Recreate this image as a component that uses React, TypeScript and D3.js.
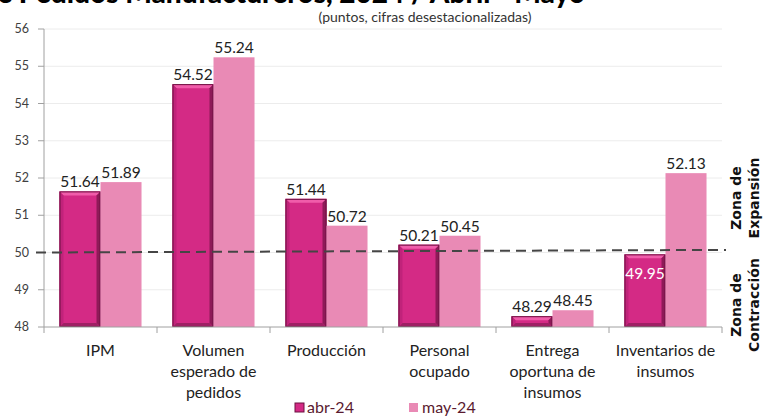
import React from "react";
import * as d3 from "d3";

const categories = [
  ["IPM"],
  ["Volumen", "esperado de", "pedidos"],
  ["Producción"],
  ["Personal", "ocupado"],
  ["Entrega", "oportuna de", "insumos"],
  ["Inventarios de", "insumos"],
];
const seriesNames = ["abr-24", "may-24"];
const abr = [51.64, 54.52, 51.44, 50.21, 48.29, 49.95];
const may = [51.89, 55.24, 50.72, 50.45, 48.45, 52.13];
const abrLabelInside = [false, false, false, false, false, true];
const yTicks = [48, 49, 50, 51, 52, 53, 54, 55, 56];
const threshold = 50;
const title = "Indicadores de Pedidos Manufactureros, 2024 / Abril - Mayo";
const subtitle = "(puntos, cifras desestacionalizadas)";

const W = 765, H = 416;
const left = 44, right = 722, top = 29, bottom = 327;
const FONT = "Lato, 'Noto Sans', sans-serif";
const C_ABR = "#D42A85";
const C_MAY = "#E98AB5";

export default function App() {
  const y = d3.scaleLinear().domain([48, 56]).range([bottom, top]);
  const x0 = d3.scaleBand<number>().domain(d3.range(categories.length)).range([left, right]).padding(0);
  const bw = x0.bandwidth();
  const x1 = d3.scaleBand<number>().domain([0, 1]).range([bw * 0.137, bw * 0.863]).padding(0);
  const b = x1.bandwidth();

  const AbrBar = ({ x, v }: { x: number; v: number }) => {
    const yt = y(v);
    const h = bottom - yt;
    const e = Math.min(4, h / 2);
    return (
      <g>
        <rect x={x} y={yt} width={b} height={h} fill={C_ABR} />
        <polygon points={`${x},${yt} ${x + b},${yt} ${x + b - e},${yt + e} ${x + e},${yt + e}`} fill="#F05CAA" />
        <polygon points={`${x + b},${yt} ${x + b},${bottom} ${x + b - e},${bottom - e} ${x + b - e},${yt + e}`} fill="#8E1A58" />
        <polygon points={`${x},${bottom} ${x + b},${bottom} ${x + b - e},${bottom - e} ${x + e},${bottom - e}`} fill="#9E2064" />
        <polygon points={`${x},${yt} ${x + e},${yt + e} ${x + e},${bottom - e} ${x},${bottom}`} fill="#C0237A" />
        <rect x={x + 0.5} y={yt + 0.5} width={b - 1} height={h - 1} fill="none" stroke="#6d1040" strokeWidth={1} />
      </g>
    );
  };

  return (
    <svg width={W} height={H} style={{ position: "absolute", left: 0, top: 0 }} fontFamily={FONT}>
      <rect width={W} height={H} fill="#fff" />
      <text x={585} y={3} textAnchor="end" fontSize={28} fontWeight={900} fill="#000">{title}</text>
      <text x={425} y={22} textAnchor="middle" fontSize={14} fill="#333">{subtitle}</text>

      {yTicks.slice(1).map((t) => (
        <line key={t} x1={left} x2={right} y1={y(t)} y2={y(t)} stroke="#ececec" strokeWidth={1} />
      ))}
      <line x1={left} x2={left} y1={top} y2={bottom} stroke="#a0a0a0" />
      {yTicks.map((t) => (
        <g key={t}>
          <line x1={left - 6} x2={left} y1={y(t)} y2={y(t)} stroke="#a0a0a0" />
          <text x={29} y={y(t) + 4} textAnchor="end" fontSize={12.5} fill="#404040">{t}</text>
        </g>
      ))}

      {categories.map((c, i) => {
        const bx = x0(i)!;
        const xa = bx + x1(0)!;
        const xm = bx + x1(1)!;
        return (
          <g key={i}>
            <AbrBar x={xa} v={abr[i]} />
            <rect x={xm} y={y(may[i])} width={b} height={bottom - y(may[i])} fill={C_MAY} />
          </g>
        );
      })}

      <line x1={left} x2={right} y1={bottom} y2={bottom} stroke="#a0a0a0" />
      {d3.range(categories.length + 1).map((i) => {
        const xx = i < categories.length ? x0(i)! : right;
        return <line key={i} x1={xx} x2={xx} y1={bottom} y2={bottom + 6} stroke="#a0a0a0" />;
      })}

      <line x1={left - 8} x2={right + 4} y1={y(threshold)} y2={y(threshold + 0.07)} stroke="#454545" strokeWidth={2} strokeDasharray="10 6" />

      {categories.map((c, i) => {
        const bx = x0(i)!;
        const xa = bx + x1(0)! + b / 2;
        const xm = bx + x1(1)! + b / 2;
        const inside = abrLabelInside[i];
        return (
          <g key={i} fontSize={15.5}>
            <text x={xa} y={inside ? y(abr[i]) + 25 : y(abr[i]) - 4} textAnchor="middle" fill={inside ? "#fff" : "#222"}>{abr[i].toFixed(2)}</text>
            <text x={xm} y={y(may[i]) - 4} textAnchor="middle" fill="#222">{may[i].toFixed(2)}</text>
            <text x={bx + bw / 2} y={356} textAnchor="middle" fontSize={16} fill="#222">
              {c.map((l, k) => (
                <tspan key={k} x={bx + bw / 2} dy={k === 0 ? 0 : 21}>{l}</tspan>
              ))}
            </text>
          </g>
        );
      })}

      <g fontSize={16} fill="#5a1a30">
        <rect x={295} y={403} width={9} height={9} fill={C_ABR} stroke="#6d1040" strokeWidth={1} />
        <text x={307} y={413}>{seriesNames[0]}</text>
        <rect x={409} y={403} width={9} height={9} fill={C_MAY} />
        <text x={422} y={413}>{seriesNames[1]}</text>
      </g>

      <g fontSize={14} fontWeight={700} fill="#111" fontFamily="'DejaVu Sans', sans-serif">
        <text transform={`translate(741,198) rotate(-90)`} textAnchor="middle">Zona de</text>
        <text transform={`translate(759,198) rotate(-90)`} textAnchor="middle">Expansión</text>
        <text transform={`translate(741,305) rotate(-90)`} textAnchor="middle">Zona de</text>
        <text transform={`translate(759,305) rotate(-90)`} textAnchor="middle">Contracción</text>
      </g>
    </svg>
  );
}
